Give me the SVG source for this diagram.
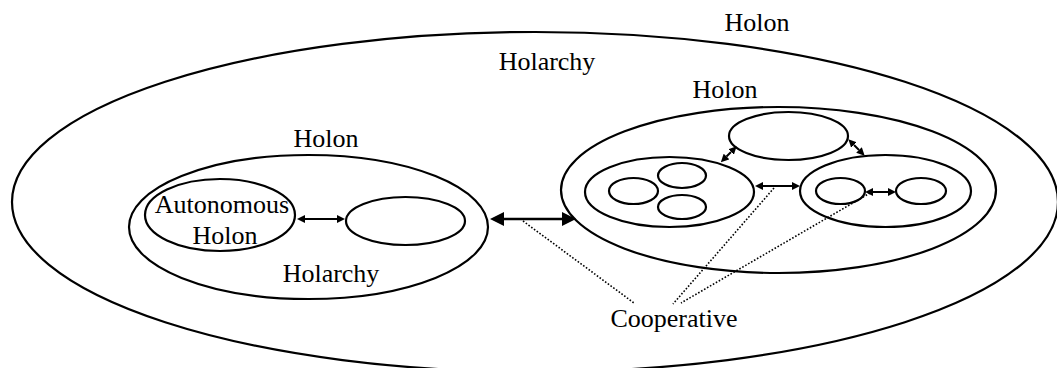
<svg xmlns="http://www.w3.org/2000/svg" width="1057" height="368" viewBox="0 0 1057 368">
<style>
.e{fill:none;stroke:#000;stroke-width:2.2}
.t{font-family:"Liberation Serif","Times New Roman",serif;font-size:26px;fill:#000;text-anchor:middle}
.a{stroke:#000;fill:none}
.big{stroke-width:2.6;marker-start:url(#hb);marker-end:url(#hb)}
.sm{stroke-width:2;marker-start:url(#hs);marker-end:url(#hs)}
.dot{stroke:#000;stroke-width:1.6;stroke-dasharray:1.6 1.8;fill:none}
</style>
<defs>
<marker id="hb" markerUnits="userSpaceOnUse" viewBox="0 0 14 14" refX="0" refY="7" markerWidth="14" markerHeight="14" orient="auto-start-reverse"><path d="M0,0 L14,7 L0,14 z" fill="#000"/></marker>
<marker id="hs" markerUnits="userSpaceOnUse" viewBox="0 0 8 8" refX="0" refY="4" markerWidth="8" markerHeight="8" orient="auto-start-reverse"><path d="M0,0 L8,4 L0,8 z" fill="#000"/></marker>
</defs>
<rect width="1057" height="368" fill="#fff"/>

<g id="outer-holon">
<ellipse class="e" cx="535" cy="202" rx="523" ry="170"/>
<text class="t" x="757" y="31">Holon</text>
<text class="t" x="547" y="70">Holarchy</text>
</g>

<g id="left-holon">
<ellipse class="e" cx="308.5" cy="227" rx="179.5" ry="72"/>
<text class="t" x="326" y="147">Holon</text>
<text class="t" x="331" y="282">Holarchy</text>
</g>
<g id="autonomous-holon">
<ellipse class="e" cx="220" cy="215" rx="75" ry="36"/>
<text class="t" x="222" y="213">Autonomous</text>
<text class="t" x="225" y="244">Holon</text>
</g>
<g id="left-holon-member">
<ellipse class="e" cx="405.5" cy="221" rx="59.5" ry="24"/>
</g>

<g id="right-holon">
<ellipse class="e" cx="778.5" cy="190" rx="217.5" ry="83"/>
<text class="t" x="725" y="98">Holon</text>
</g>
<g id="right-top">
<ellipse class="e" cx="788.5" cy="136" rx="59.5" ry="24"/>
</g>
<g id="right-left-sub">
<ellipse class="e" cx="669.5" cy="192" rx="84.5" ry="35"/>
<ellipse class="e" cx="633.5" cy="191" rx="24.5" ry="13"/>
<ellipse class="e" cx="682" cy="175.5" rx="24" ry="12.5"/>
<ellipse class="e" cx="682" cy="207" rx="24" ry="12"/>
</g>
<g id="right-right-sub">
<ellipse class="e" cx="885.5" cy="191" rx="85.5" ry="36"/>
<ellipse class="e" cx="840.5" cy="191" rx="24.5" ry="13"/>
<ellipse class="e" cx="921" cy="191" rx="25" ry="13"/>
</g>

<g id="cooperative-label">
<text class="t" x="674" y="327">Cooperative</text>
</g>

<g id="connectors">
<line class="a big" x1="504" y1="219" x2="562" y2="219"/>
<line class="a sm" x1="305" y1="219" x2="337" y2="219"/>
<line class="a sm" x1="763" y1="186" x2="792" y2="186"/>
<line class="a sm" x1="873" y1="192" x2="888" y2="192"/>
<line class="a sm" x1="726.5" y1="156.5" x2="731" y2="152"/>
<line class="a sm" x1="854" y1="145" x2="859" y2="150"/>
<line class="dot" x1="523" y1="221" x2="634" y2="303"/>
<line class="dot" x1="774" y1="188" x2="673" y2="304"/>
<line class="dot" x1="870" y1="193" x2="681" y2="303"/>
</g>
</svg>
